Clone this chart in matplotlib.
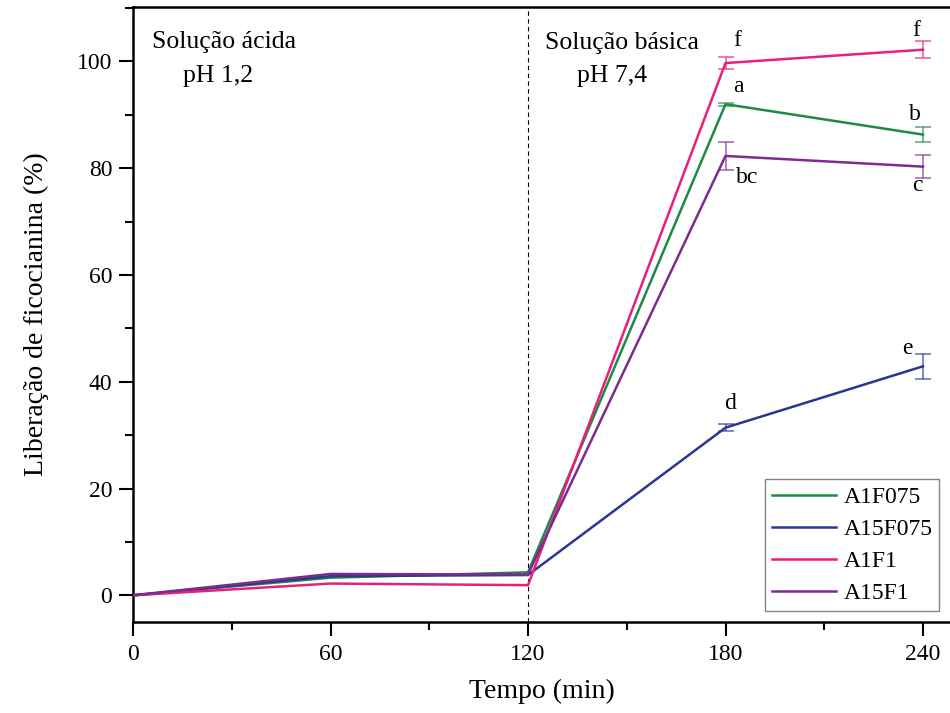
import numpy as np
import matplotlib.pyplot as plt
from matplotlib.ticker import MultipleLocator

plt.rcParams['font.family'] = ['Liberation Serif', 'DejaVu Serif']

# dados
tempo = [0, 60, 120, 180, 240]
series = ["A1F075", "A15F075", "A1F1", "A15F1"]
a1f075 = [0, 3.3, 4.3, 92.0, 86.3]
a15f075 = [0, 3.6, 3.8, 31.4, 42.9]
a1f1 = [0, 2.2, 1.9, 99.7, 102.2]
a15f1 = [0, 4.0, 3.9, 82.3, 80.3]
err_a1f075 = [0, 0, 0, 0.3, 1.4]
err_a15f075 = [0, 0, 0, 0.7, 2.3]
err_a1f1 = [0, 0, 0, 1.2, 1.6]
err_a15f1 = [0, 0, 0, 2.7, 2.1]

# letras de significância (x, y, texto)
letras = [(183.4, 103.9, "f"), (184.0, 95.3, "a"), (186.5, 78.3, "bc"),
          (181.5, 36.0, "d"), (238.0, 105.8, "f"), (237.5, 90.1, "b"),
          (238.2, 76.8, "c"), (235.3, 46.3, "e")]

cores = ["#1e8a45", "#2b3592", "#e8207c", "#7d2b8e"]
valores = [a1f075, a15f075, a1f1, a15f1]
erros = [err_a1f075, err_a15f075, err_a1f1, err_a15f1]

fig = plt.figure(figsize=(9.5, 7.13), dpi=100)
ax = fig.add_axes([133 / 950, 1 - 622 / 713, (950 - 133) / 950, (622 - 7) / 713])

for nome, y, e, c in zip(series, valores, erros, cores):
    ax.plot(tempo, y, color=c, lw=1.8, label=nome, zorder=3)
    ax.errorbar(tempo, y, yerr=e, fmt='none', ecolor=c, alpha=0.75,
                elinewidth=1.1, capsize=6, capthick=1.1, errorevery=(3, 1), zorder=2)

ax.axvline(120, color='black', lw=0.8, ls=(0, (4, 3)), zorder=1)

for x, y, t in letras:
    ax.text(x, y, t, fontsize=17, ha='center', va='center')

ax.text(5.8, 103.7, "Solução ácida", fontsize=18.5, va='center')
ax.text(15.2, 97.3, "pH 1,2", fontsize=18.5, va='center')
ax.text(125.2, 103.5, "Solução básica", fontsize=18.5, va='center')
ax.text(134.9, 97.3, "pH 7,4", fontsize=18.5, va='center')

ax.set_xlim(0, 248.2)
ax.set_ylim(-5, 110.2)
ax.set_xticks(tempo)
ax.set_yticks([0, 20, 40, 60, 80, 100])
ax.xaxis.set_minor_locator(MultipleLocator(30))
ax.yaxis.set_minor_locator(MultipleLocator(10))
ax.tick_params(which='major', direction='out', length=10, width=1.5, labelsize=17)
ax.tick_params(axis='y', which='major', pad=5)
ax.tick_params(axis='x', which='major', pad=6)
ax.tick_params(which='minor', direction='out', length=6, width=1.5)
ax.spines['right'].set_visible(False)
for s in ['left', 'bottom', 'top']:
    ax.spines[s].set_linewidth(1.8)

ax.set_xlabel("Tempo (min)", fontsize=20, labelpad=10)
ax.set_ylabel("Liberação de ficocianina (%)", fontsize=20, labelpad=20)

leg = ax.legend(loc='lower right', fontsize=17, frameon=True, fancybox=False,
                edgecolor='#666666', handlelength=2.7, borderaxespad=0.45,
                labelspacing=0.45, handletextpad=0.3, borderpad=0.3)
leg.get_frame().set_linewidth(1.0)

fig.savefig("out.png", dpi=100)
